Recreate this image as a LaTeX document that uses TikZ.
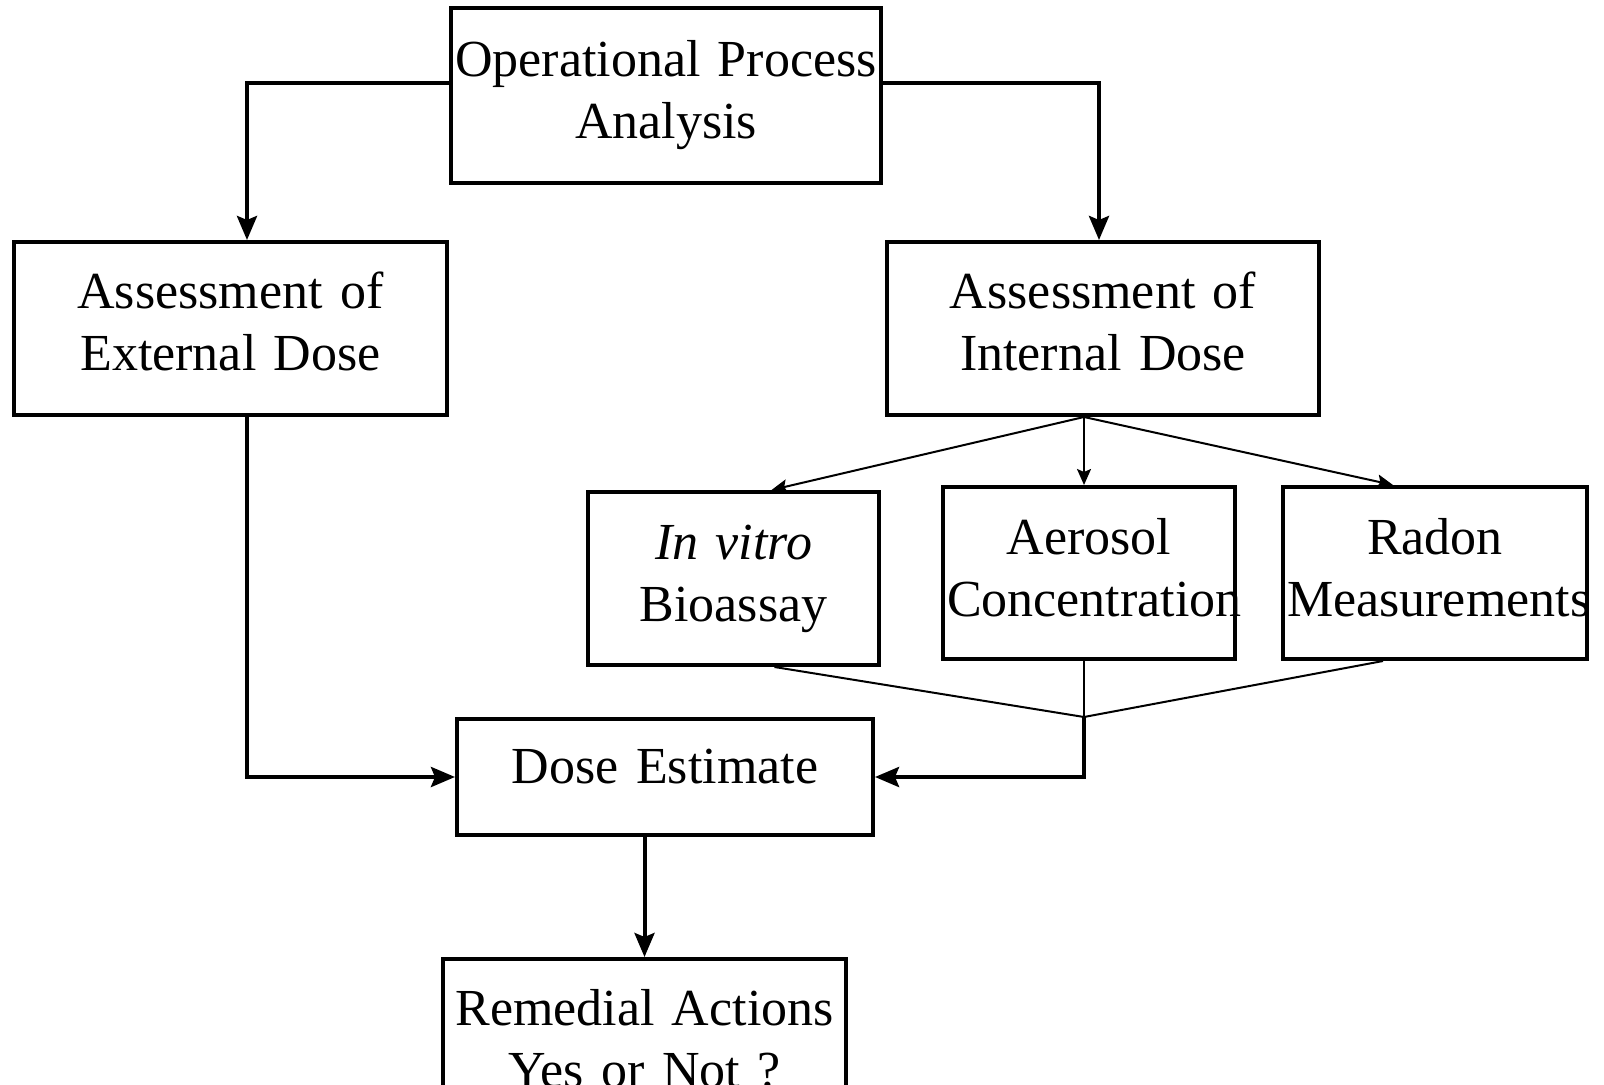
\documentclass[tikz,border=0pt]{standalone}
\usepackage{fontspec}
\setmainfont{Liberation Serif}
\usetikzlibrary{calc,arrows.meta}
\tikzset{
  box/.style 2 args = {draw, line width = 2pt, rectangle, align = center, inner xsep = 2pt, inner ysep = 0pt, text width = #1, minimum height = #2},
  link/.style = {draw, line width = 2pt, -{Stealth[length=12pt,width=10pt,inset=2pt]}},
  sublink/.style = {draw, line width = 1pt, -{Stealth[length=8pt,width=7pt,inset=1.5pt]}},
  joinline/.style = {draw, line width = 1pt}
}
\begin{document}
\begin{tikzpicture}[x=0.5pt,y=-0.5pt,font=\fontsize{26}{31}\selectfont]
  \useasboundingbox (0,0) rectangle (1604,1085);
  \clip (0,0) rectangle (1604,1085);
  \node[box={211pt}{87.5pt}] (opa) at (666,95.5) {Operational Process\\Analysis};
  \node[box={212.5pt}{86.5pt}, text depth=38pt] (ext) at (230.5,328.5) {Assessment of\\External Dose};
  \node[box={212pt}{86.5pt}, text depth=38pt] (int) at (1103,328.5) {Assessment of\\Internal Dose};
  \node[box={141.5pt}{86.5pt}] (vitro) at (733.5,578.5) {\textit{In vitro}\\Bioassay};
  \node[box={142pt}{86pt}, text depth=37pt] (aero) at (1089,573) {Aerosol\\Concentration};
  \node[box={148pt}{86pt}, text depth=37pt] (radon) at (1435,573) {Radon\\Measurements};
  \node[box={204pt}{58pt}, text depth=11pt] (dose) at (665,777) {Dose Estimate};
  \node[box={197.5pt}{80pt}, anchor=north] (rem) at (644.5,957) {Remedial Actions\\Yes or Not ?};

  % top
  \coordinate (ltop) at (247,83);
  \coordinate (rtop) at (1099,83);
  \draw[link] (opa.west |- ltop) -- (ltop) -- (ltop |- ext.north);
  \draw[link] (opa.east |- rtop) -- (rtop) -- (rtop |- int.north);

  % internal dose
  \coordinate (fan) at (1084,417);
  \draw[sublink] (fan) -- ([xshift=19pt]vitro.north);
  \draw[sublink] (fan) -- ([xshift=-2.5pt]aero.north);
  \draw[sublink] (fan) -- ([xshift=-21pt]radon.north);
  \coordinate (join) at (1084,717);
  \draw[joinline] ([xshift=20.5pt]vitro.south) -- (join);
  \draw[joinline] ([xshift=-2.5pt]aero.south) -- (join);
  \draw[joinline] ([xshift=-26pt]radon.south) -- (join);
  \draw[link] (join) -- (join |- dose.east) -- (dose.east);

  % external dose
  \draw[link] (ext.south -| ltop) -- (ltop |- dose.west) -- (dose.west);

  % estimate
  \draw[link] (dose.south -| rem.north) -- (rem.north);
\end{tikzpicture}
\end{document}
